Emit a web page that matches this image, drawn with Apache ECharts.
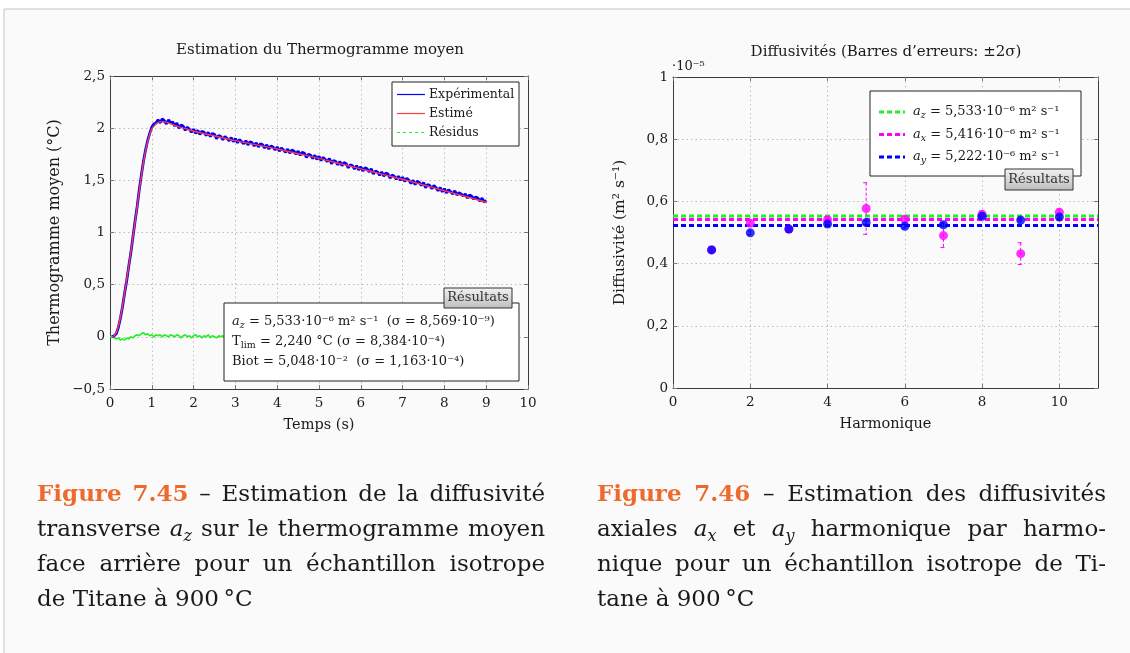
<!DOCTYPE html>
<html><head><meta charset="utf-8">
<script src="https://cdn.jsdelivr.net/npm/echarts@6/dist/echarts.min.js"></script>
<style>html,body{margin:0;padding:0;background:#fff}#c{width:1130px;height:653px}</style>
</head><body><div id="c"></div><script>
// ---------------- DATA ----------------
const titleLeft = 'Estimation du Thermogramme moyen';
const titleRight = 'Diffusivités (Barres d\u2019erreurs: ±2σ)';
const xNameLeft = 'Temps (s)';
const yNameLeft = 'Thermogramme moyen (°C)';
const xNameRight = 'Harmonique';
const yNameRight = 'Diffusivité (m² s⁻¹)';
const legendLeft = ['Expérimental', 'Estimé', 'Résidus'];

// Estimated thermogram (red)
const estT = [0.05,0.1,0.15,0.2,0.25,0.3,0.35,0.4,0.45,0.5,0.55,0.6,0.65,0.7,0.75,0.8,0.85,0.9,0.95,1.0,1.1,1.2,1.3,1.4,1.6,1.8,2.0,2.5,3,3.5,4,4.5,5,5.5,6,6.5,7,7.5,8,8.5,9];
const estV = [0,0.01,0.04,0.10,0.19,0.30,0.42,0.55,0.68,0.82,0.96,1.10,1.25,1.40,1.54,1.67,1.78,1.87,1.94,1.99,2.04,2.06,2.06,2.05,2.02,1.995,1.97,1.925,1.88,1.84,1.80,1.755,1.71,1.66,1.61,1.56,1.51,1.455,1.40,1.345,1.29];

// Experimental thermogram (blue), sampled every 0.05 s from 0.05 s
const expStart = 0.05, expStep = 0.05;
const expV = [
0.00,0.01,0.03,0.09,0.18,0.29,0.42,0.54,0.68,0.81,0.96,1.11,1.25,1.41,1.55,1.68,1.79,1.88,1.95,2.01,
2.04,2.05,2.08,2.05,2.09,2.07,2.04,2.08,2.05,2.06,2.02,2.05,2.00,2.03,2.02,1.98,2.01,1.99,1.96,1.99,
1.95,1.98,1.94,1.97,1.96,1.93,1.96,1.92,1.95,1.94,1.90,1.93,1.92,1.89,1.92,1.90,1.88,1.91,1.87,1.90,
1.86,1.89,1.87,1.85,1.88,1.84,1.87,1.86,1.83,1.86,1.82,1.85,1.84,1.81,1.84,1.80,1.83,1.82,1.79,1.82,
1.78,1.81,1.79,1.77,1.80,1.76,1.79,1.78,1.75,1.78,1.74,1.77,1.76,1.72,1.75,1.74,1.71,1.74,1.70,1.73,
1.69,1.72,1.70,1.68,1.71,1.66,1.69,1.68,1.65,1.68,1.64,1.67,1.66,1.62,1.65,1.64,1.61,1.64,1.60,1.63,
1.59,1.62,1.61,1.58,1.61,1.56,1.59,1.58,1.55,1.58,1.54,1.57,1.56,1.52,1.55,1.54,1.51,1.54,1.50,1.53,
1.49,1.52,1.50,1.47,1.50,1.46,1.49,1.48,1.45,1.48,1.43,1.46,1.45,1.42,1.45,1.43,1.40,1.43,1.39,1.42,
1.38,1.41,1.39,1.37,1.40,1.36,1.38,1.37,1.35,1.37,1.33,1.36,1.35,1.32,1.34,1.33,1.30,1.33,1.29,1.31];

// Residuals (green), sampled every 0.05 s from 0 s
const resStart = 0, resStep = 0.05;
const resV = [
0.00,0.01,-0.01,-0.02,-0.01,-0.03,-0.02,-0.03,-0.01,-0.02,0.00,-0.01,0.01,0.02,0.01,0.03,0.04,0.02,0.03,0.01,
0.02,0.00,0.02,0.01,0.02,0.00,0.02,0.01,0.00,0.02,0.01,0.00,0.02,0.01,-0.01,0.01,0.02,0.00,0.01,-0.01,
0.01,0.02,0.00,0.01,-0.01,0.01,0.00,0.02,-0.01,0.01,0.00,-0.01,0.01,0.00,0.01,-0.01,0.01,0.00,0.01,-0.01,
0.00,0.01,-0.01,0.01,0.00,0.02,-0.01,0.00,0.01,-0.01,0.01,0.00,-0.01,0.01,0.02,0.00,-0.01,0.01,0.00,0.01,
-0.01,0.00,0.01,-0.02,0.01,0.00,0.01,-0.01,0.00,0.02,0.00,-0.01,0.01,0.00,-0.01,0.01,0.01,-0.01,0.00,0.01,
0.00,0.01,-0.01,0.00,0.02,-0.01,0.01,0.00,-0.01,0.01,0.01,0.00,-0.01,0.01,0.00,-0.02,0.01,0.00,0.01,-0.01,
0.01,-0.01,0.00,0.01,0.00,0.02,-0.01,0.01,0.00,-0.01,0.00,0.01,-0.01,0.01,0.00,0.01,-0.01,0.00,0.02,0.00,
-0.01,0.01,0.00,0.01,-0.01,0.00,0.01,0.00,-0.02,0.01,0.01,0.00,-0.01,0.01,0.00,0.01,-0.01,0.00,0.01,0.00,
0.01,0.00,-0.01,0.01,0.00,0.02,0.00,-0.01,0.01,0.00,0.00,0.01,-0.01,0.01,0.00,-0.01,0.01,0.00,0.01,0.00,0.00];

// Right chart (values in units of 1e-5 m^2/s)
const harm = [1,2,3,4,5,6,7,8,9,10];
const ayV = [0.444,0.499,0.511,0.527,0.532,0.520,0.525,0.552,0.540,0.550];
const axV = [0.444,0.530,0.511,0.541,0.577,0.543,0.490,0.559,0.432,0.565];
const axErr = [0.010,0.010,0.010,0.010,0.083,0.010,0.038,0.010,0.035,0.010];
const ayErr = [0.006,0.006,0.006,0.006,0.006,0.006,0.006,0.006,0.006,0.006];
const meanNames = ['z','x','y'];
const meanVals = [0.5533,0.5416,0.5222];
const meanColors = ['#22ee22','#ff00ff','#0000ff'];

const resultsLines = [
  '{i|a}{sub|z}{n| = 5,533·10⁻⁶ m² s⁻¹  (σ = 8,569·10⁻⁹)}',
  '{n|T}{subr|lim}{n| = 2,240 °C (σ = 8,384·10⁻⁴)}',
  '{n|Biot = 5,048·10⁻²  (σ = 1,163·10⁻⁴)}'
];
const capLeft = ['{b|Figure} {b|7.45} – Estimation de la diffusivité',
  'transverse {i|a}{sub|z} sur le thermogramme moyen',
  'face arrière pour un échantillon isotrope',
  'de Titane à 900\u2009°C'];
const capRight = ['{b|Figure} {b|7.46} – Estimation des diffusivités',
  'axiales {i|a}{sub|x} et {i|a}{sub|y} harmonique par harmo-',
  'nique pour un échantillon isotrope de Ti-',
  'tane à 900\u2009°C'];

// ---------------- STYLE ----------------
const SERIF = '"DejaVu Serif", serif';
const TXT = '#1a1a1a';
const fmtNum = v => (v < 0 ? '−' : '') + String(Math.abs(+v.toFixed(2))).replace('.', ',');

function axisPair(grid, min, max, interval, isX, name, nameGap, rot, nameSize) {
  const common = {
    gridIndex: grid, type: 'value', min, max, interval,
    axisLine: {show: true, onZero: false, lineStyle: {color: '#3a3a3a', width: 1}},
    axisTick: {show: true, inside: true, length: 4, lineStyle: {color: '#777'}},
  };
  const main = Object.assign({}, common, {
    position: isX ? 'bottom' : 'left',
    axisLabel: {color: TXT, fontFamily: SERIF, fontSize: 13.5, margin: isX ? 7 : 5, formatter: fmtNum, showMaxLabel: !(isX && grid === 1)},
    splitLine: {show: true, lineStyle: {type: [1.5, 3], color: '#bdbdbd', width: 1}},
    name, nameLocation: 'middle', nameGap, nameRotate: rot,
    nameTextStyle: {color: TXT, fontFamily: SERIF, fontSize: nameSize}
  });
  const other = Object.assign({}, common, {
    position: isX ? 'top' : 'right',
    axisLabel: {show: false}, splitLine: {show: false}
  });
  return [main, other];
}

const xAxes = [...axisPair(0, 0, 10, 1, true, xNameLeft, 29, 0, 14.5), ...axisPair(1, 0, 11, 2, true, xNameRight, 29, 0, 14.5)];
const yAxes = [...axisPair(0, -0.5, 2.5, 0.5, false, yNameLeft, 47, 90, 16), ...axisPair(1, 0, 1, 0.2, false, yNameRight, 45, 90, 15.5)];

const expData = expV.map((v, i) => [+(expStart + i * expStep).toFixed(2), v]);
const resData = resV.map((v, i) => [+(resStart + i * resStep).toFixed(2), v]);
const estData = estT.map((t, i) => [t, estV[i]]);

function errSeries(vals, errs, color) {
  return {
    type: 'custom', xAxisIndex: 2, yAxisIndex: 2, z: 4,
    data: harm.map((h, i) => [h, vals[i], errs[i]]),
    renderItem: (params, api) => {
      const x = api.value(0), v = api.value(1), e = api.value(2);
      const a = api.coord([x, v + e]), b = api.coord([x, v - e]);
      const st = {stroke: color, lineWidth: 1};
      return {type: 'group', children: [
        {type: 'line', shape: {x1: a[0], y1: a[1], x2: b[0], y2: b[1]}, style: Object.assign({lineDash: [3, 2]}, st)},
        {type: 'line', shape: {x1: a[0] - 3, y1: a[1], x2: a[0] + 1, y2: a[1]}, style: st},
        {type: 'line', shape: {x1: b[0] - 3, y1: b[1], x2: b[0] + 1, y2: b[1]}, style: st}
      ]};
    }
  };
}

const series = [
  {type: 'line', xAxisIndex: 0, yAxisIndex: 0, data: resData, showSymbol: false, z: 2, lineStyle: {color: '#22ee22', width: 1.6}},
  {type: 'line', xAxisIndex: 0, yAxisIndex: 0, data: expData, showSymbol: false, z: 3, lineStyle: {color: '#0000ff', width: 2.8}},
  {type: 'line', xAxisIndex: 0, yAxisIndex: 0, data: estData, showSymbol: false, z: 4, smooth: 0.3, lineStyle: {color: '#ff3b3b', width: 1.4}},
];
meanVals.forEach((v, i) => series.push({
  type: 'line', xAxisIndex: 2, yAxisIndex: 2, data: [[0, v], [11, v]], showSymbol: false, z: 3 - i * 0.1,
  lineStyle: {color: meanColors[i], width: 3, type: [5, 3]}
}));
series.push(errSeries(axV, axErr, '#ff00ff'));
series.push(errSeries(ayV, ayErr, '#0000ff'));
series.push({type: 'scatter', xAxisIndex: 2, yAxisIndex: 2, data: harm.map((h, i) => [h, axV[i]]), symbolSize: 9, z: 5, itemStyle: {color: '#ff00ff'}});
series.push({type: 'scatter', xAxisIndex: 2, yAxisIndex: 2, data: harm.map((h, i) => [h, ayV[i]]), symbolSize: 9, z: 6, itemStyle: {color: '#0000ff'}});

// ---------------- GRAPHICS (boxes, legends, captions) ----------------
const richChart = {
  n: {fontFamily: SERIF, fontSize: 13, fill: TXT, color: TXT, lineHeight: 18},
  i: {fontFamily: SERIF, fontSize: 13, fontStyle: 'italic', fill: TXT, color: TXT, lineHeight: 18},
  sub: {fontFamily: SERIF, fontSize: 9.5, fontStyle: 'italic', fill: TXT, color: TXT, lineHeight: 7, verticalAlign: 'bottom'},
  subr: {fontFamily: SERIF, fontSize: 9.5, fill: TXT, color: TXT, lineHeight: 7, verticalAlign: 'bottom'}
};
const tagFill = new echarts.graphic.LinearGradient(0, 0, 0, 1, [{offset: 0, color: '#f2f2f2'}, {offset: 1, color: '#bdbdbd'}]);
function tag(x, y, w, h) {
  return [
    {type: 'rect', z: 101, shape: {x, y, width: w, height: h}, style: {fill: tagFill, stroke: '#333', lineWidth: 1}},
    {type: 'text', z: 102, x: x + w / 2, y: y + h / 2, style: {text: 'Résultats', fill: '#333', font: '13px ' + SERIF, align: 'center', verticalAlign: 'middle'}}
  ];
}

const G = [];
G.push({type: 'rect', z: -10, shape: {x: 4, y: 9, width: 1140, height: 660}, style: {fill: '#fafafa', stroke: '#c4c4c4', lineWidth: 1}});
// titles
G.push({type: 'text', z: 100, x: 320, y: 50, style: {text: titleLeft, fill: TXT, font: '15px ' + SERIF, align: 'center', verticalAlign: 'middle'}});
G.push({type: 'text', z: 100, x: 886, y: 52, style: {text: titleRight, fill: TXT, font: '15px ' + SERIF, align: 'center', verticalAlign: 'middle'}});
G.push({type: 'text', z: 100, x: 672, y: 67, style: {text: '·10⁻⁵', fill: TXT, font: '13px ' + SERIF, align: 'left', verticalAlign: 'middle'}});
// left legend
G.push({type: 'rect', z: 100, shape: {x: 392, y: 82, width: 127, height: 64}, style: {fill: '#fff', stroke: '#222', lineWidth: 1}});
const legCol = ['#0000ff', '#ff3b3b', '#22ee22'];
legendLeft.forEach((nm, i) => {
  const y = 94.5 + i * 19;
  G.push({type: 'line', z: 101, shape: {x1: 397, y1: y, x2: 425, y2: y}, style: {stroke: legCol[i], lineWidth: 1.2, lineDash: i === 2 ? [3, 3] : null}});
  G.push({type: 'text', z: 101, x: 429, y: y, style: {text: nm, fill: TXT, font: '12.5px ' + SERIF, align: 'left', verticalAlign: 'middle'}});
});
// left results box
G.push({type: 'rect', z: 100, shape: {x: 224, y: 303, width: 295, height: 78}, style: {fill: '#fff', stroke: '#222', lineWidth: 1}});
resultsLines.forEach((s, i) => {
  G.push({type: 'text', z: 101, x: 232, y: 322 + i * 20, style: {text: s, rich: richChart, align: 'left', verticalAlign: 'middle'}});
});
G.push(...tag(444, 288, 68, 20));
// right legend
G.push({type: 'rect', z: 100, shape: {x: 870, y: 91, width: 211, height: 85}, style: {fill: '#fff', stroke: '#222', lineWidth: 1}});
meanVals.forEach((v, i) => {
  const y = 112 + i * 22.5;
  G.push({type: 'line', z: 101, shape: {x1: 879, y1: y, x2: 905, y2: y}, style: {stroke: meanColors[i], lineWidth: 3, lineDash: [5, 3]}});
  const txt = '{i|a}{sub|' + meanNames[i] + '}{n| = ' + (v * 10).toFixed(3).replace('.', ',') + '·10⁻⁶ m² s⁻¹}';
  G.push({type: 'text', z: 101, x: 913, y: y, style: {text: txt, rich: richChart, align: 'left', verticalAlign: 'middle'}});
});
G.push(...tag(1005, 169, 68, 21));

// captions (justified)
const cv = document.createElement('canvas').getContext('2d');
const CS = 23;
const capStyles = {
  n: {fontFamily: SERIF, fontSize: CS, fill: TXT, lineHeight: 30},
  b: {fontFamily: SERIF, fontSize: CS, fontWeight: 'bold', fill: '#ee6a2c', lineHeight: 30},
  i: {fontFamily: SERIF, fontSize: CS, fontStyle: 'italic', fill: TXT, lineHeight: 30},
  sub: {fontFamily: SERIF, fontSize: 16, fontStyle: 'italic', fill: TXT, lineHeight: 11, verticalAlign: 'bottom'}
};
const fontStr = st => (st.fontStyle || 'normal') + ' ' + (st.fontWeight || 'normal') + ' ' + st.fontSize + 'px ' + st.fontFamily;
function parseWord(w) {
  const toks = []; const re = /\{(\w+)\|([^}]*)\}|([^{]+)/g; let m;
  while ((m = re.exec(w))) { if (m[1]) toks.push([m[1], m[2]]); else toks.push(['n', m[3]]); }
  return toks;
}
const wordWidth = toks => toks.reduce((s, [k, t]) => { cv.font = fontStr(capStyles[k]); return s + cv.measureText(t).width; }, 0);
function captionElems(lines, x0, width, y0, lh) {
  lines.forEach((line, li) => {
    const words = line.split(' ').map(parseWord);
    const ws = words.map(wordWidth);
    const total = ws.reduce((a, b) => a + b, 0);
    cv.font = fontStr(capStyles.n);
    const sp = cv.measureText(' ').width;
    const justify = li < lines.length - 1;
    let gap = justify && words.length > 1 ? (width - total) / (words.length - 1) : sp;
    let sx = 1;
    if (justify && gap < sp * 0.8) { gap = sp * 0.8; sx = (width - gap * (words.length - 1)) / total; }
    let x = x0;
    words.forEach((w, wi) => {
      G.push({type: 'text', z: 100, x: x, y: y0 + li * lh, scaleX: sx, style: {text: w.map(([k, t]) => '{' + k + '|' + t + '}').join(''), rich: capStyles, align: 'left', verticalAlign: 'middle'}});
      x += ws[wi] * sx + gap;
    });
  });
}
captionElems(capLeft, 37, 508, 495, 35);
captionElems(capRight, 597, 509, 495, 35);

const chart = echarts.init(document.getElementById('c'), null, {renderer: 'canvas'});
chart.setOption({
  animation: false,
  backgroundColor: '#fff',
  grid: [{left: 110, top: 76, width: 418, height: 313}, {left: 673, top: 77, width: 425, height: 311}],
  xAxis: xAxes, yAxis: yAxes, series, graphic: {elements: G}
});
</script></body></html>
